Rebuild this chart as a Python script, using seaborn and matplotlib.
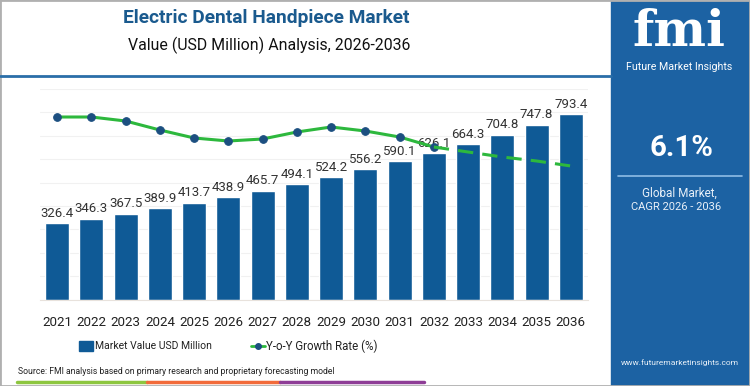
import numpy as np
import pandas as pd
import matplotlib
matplotlib.use("Agg")
import matplotlib.pyplot as plt
import seaborn as sns

# chart data
years = ["2021", "2022", "2023", "2024", "2025", "2026", "2027", "2028",
         "2029", "2030", "2031", "2032", "2033", "2034", "2035", "2036"]
market_value = [326.4, 346.3, 367.5, 389.9, 413.7, 438.9, 465.7, 494.1,
                524.2, 556.2, 590.1, 626.1, 664.3, 704.8, 747.8, 793.4]
# y-o-y growth (%)
yoy_growth = [6.30, 6.30, 6.26, 6.17, 6.09, 6.06, 6.08, 6.15,
              6.20, 6.16, 6.10, 6.00, 5.95, 5.90, 5.86, 5.81]
cagr_text = "6.1%"

bar_color = "#0f5a96"
line_color = "#2db83d"
marker_color = "#1c4f80"
panel_color = "#1c62a3"
title_color = "#1a5a8e"

sns.set_style("white")
plt.rcParams["font.family"] = ["Roboto", "DejaVu Sans"]

df = pd.DataFrame({"year": years, "value": market_value, "growth": yoy_growth})
df["x"] = np.arange(len(df))

fig = plt.figure(figsize=(7.5, 3.86), dpi=100)
renderer = fig.canvas.get_renderer()


def fit(t, width_px):
    # shrink/grow a text so it spans the width seen in the reference
    w = t.get_window_extent(renderer).width
    t.set_fontsize(t.get_fontsize() * width_px / w)
    return t


def ftext(x, y, s, width_px, **kw):
    t = fig.text(x / 750, 1 - y / 386, s, va="center", **kw)
    return fit(t, width_px)


ax = fig.add_axes([40 / 750, 1 - 299.5 / 386, 548 / 750, 210.5 / 386])
sns.barplot(data=df, x="year", y="value", color=bar_color, width=0.7,
            saturation=1, ax=ax)
ax.set_ylim(0, 900)
ax.set_xlim(-0.5, len(years) - 0.5)
ax.set_yticks(range(0, 1000, 100))
ax.yaxis.grid(True, color="#f1f1f1", linewidth=0.8)
ax.set_axisbelow(True)
ax.set_yticklabels([])
ax.tick_params(axis="y", length=0)
ax.tick_params(axis="x", length=3, color="#e8d6c8", labelsize=9.6, pad=9,
               labelcolor="#222222")
ax.set_xlabel("")
ax.set_ylabel("")
for s in ["top", "right", "left"]:
    ax.spines[s].set_visible(False)
ax.spines["bottom"].set_color("#e8e2dc")
for i, v in enumerate(market_value):
    ax.text(i, v + 14, f"{v:.1f}", ha="center", va="bottom", fontsize=9.5,
            color="#333333")

# growth line on hidden twin axis: solid with markers to 2032, dashed after
ax2 = ax.twinx()
solid = df[df["x"] <= 11]
dashed = df[df["x"] >= 11]
sns.lineplot(data=solid, x="x", y="growth", color=line_color, linewidth=2.2,
             marker="o", markersize=5.5, markerfacecolor=marker_color,
             markeredgecolor=marker_color, ax=ax2)
sns.lineplot(data=dashed, x="x", y="growth", color=line_color, linewidth=2.2,
             linestyle=(0, (5, 3)), ax=ax2)
ax2.set_ylim(4.475, 6.58)
ax2.set_xlim(-0.5, len(years) - 0.5)
ax2.axis("off")

# titles
ftext(266, 18, "Electric Dental Handpiece Market", 288, ha="center",
      fontsize=15, fontweight="bold", color=title_color)
ftext(269, 45, "Value (USD Million) Analysis, 2026-2036", 282, ha="center",
      fontsize=13, color="#111111")
fig.add_artist(plt.Line2D([0, 611 / 750], [1 - 75.5 / 386] * 2,
                          color="#2a6ea8", linewidth=2))

# legend
fig.patches.append(plt.Rectangle((79 / 750, 1 - 351 / 386), 14 / 750, 10 / 386,
                                 transform=fig.transFigure, color=bar_color))
ftext(95, 346, "Market Value USD Million", 116, fontsize=10,
      color="#222222")
fig.add_artist(plt.Line2D([251 / 750, 265 / 750], [1 - 346 / 386] * 2,
                          color=line_color, linewidth=2))
fig.add_artist(plt.Line2D([258 / 750], [1 - 346 / 386], marker="o",
                          markersize=4, color=marker_color))
ftext(266, 346, "Y-o-Y Growth Rate (%)", 112, fontsize=10, color="#222222")

# source + colour bar
ftext(18, 372,
      "Source: FMI analysis based on primary research and proprietary forecasting model",
      318, fontsize=8, color="#222222")
for x0, x1, c in [(17, 147, "#8dc63f"), (147, 280, "#f26b3a"), (280, 424, "#8e3d96")]:
    fig.add_artist(plt.Line2D([x0 / 750, x1 / 750], [1 - 382 / 386] * 2,
                              color=c, linewidth=2.5))

# right panel
fig.patches.append(plt.Rectangle((611 / 750, 0), 139 / 750, 1,
                                 transform=fig.transFigure, color=panel_color))
ftext(679, 32, "fmi", 93, ha="center", fontsize=36, fontweight="bold",
      color="white", family=["DejaVu Serif"])
ftext(679, 67, "Future Market Insights", 107, ha="center", fontsize=8,
      color="white")
ftext(681, 148, cagr_text, 64, ha="center", fontsize=20, fontweight="bold",
      color="white")
fig.add_artist(plt.Line2D([618 / 750, 742 / 750], [1 - 176 / 386] * 2,
                          color="#8fbde6", linewidth=1.2))
ftext(679, 193, "Global Market,", 76, ha="center", fontsize=9,
      color="#e8f0f8")
ftext(676, 207, "CAGR 2026 - 2036", 90, ha="center", fontsize=9,
      color="#e8f0f8")
ftext(680, 363, "www.futuremarketinsights.com", 118, ha="center",
      fontsize=7, color="#e8f0f8")

# outer border
fig.patches.append(plt.Rectangle((0, 0), 1, 1, transform=fig.transFigure,
                                 fill=False, edgecolor="#b0b0b0", linewidth=2))

fig.savefig("out.png", dpi=100)
